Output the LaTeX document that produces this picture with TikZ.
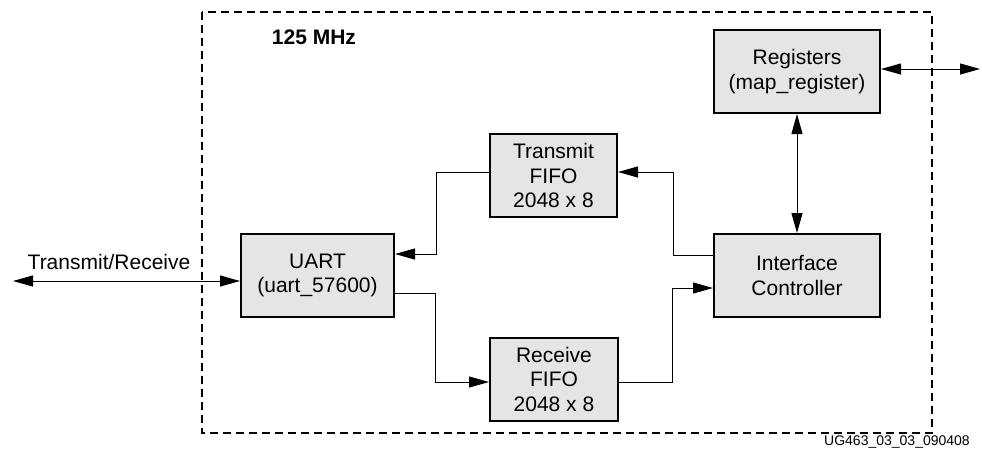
\documentclass[tikz,border=0pt]{standalone}
\usepackage{fontspec}
\setmainfont{Liberation Sans}
\usetikzlibrary{arrows.meta}
\definecolor{grigio}{RGB}{228,229,231}

\begin{document}
\begin{tikzpicture}[x=0.5pt,y=-0.5pt,
        testo/.style={font=\fontsize{10.5}{12.25}\selectfont},
        blocco/.style={testo,draw,line width=1pt,fill=grigio,align=center,inner sep=0pt,
              minimum width=#1,minimum height=41.5pt},
        freccia/.style={-{Triangle[length=10pt,width=5.5pt]},line width=0.5pt},
        doppia/.style={{Triangle[length=10pt,width=5.5pt]}-{Triangle[length=10pt,width=5.5pt]},line width=0.5pt}]
        \useasboundingbox (0,0) rectangle (982,457);

        % riquadro tratteggiato
        \draw[dashed,line width=0.75pt,dash pattern=on 4pt off 2.5pt] (202,12) rectangle (932,433);
        \node[testo,font=\bfseries\fontsize{10.5}{12.25}\selectfont] (clock) at (314,37) {125 MHz};

        % blocchi
        \node[blocco=76.5pt] (uart) at (317.5,275.5) {UART\\(uart\_57600)};
        \node[blocco=63.5pt] (txfifo) at (553.5,175.5) {Transmit\\FIFO\\2048 x 8};
        \node[blocco=64pt] (rxfifo) at (554,379) {Receive\\FIFO\\2048 x 8};
        \node[blocco=83pt] (regs) at (797,71.5) {Registers\\(map\_register)};
        \node[blocco=83pt] (ctrl) at (797,275.5) {Interface\\Controller};

        % collegamenti
        \coordinate (serial) at (13,281);
        \draw[doppia] (serial) -- (serial -| uart.west);
        \node[testo] (seriallabel) at (109,262) {Transmit/Receive};

        \draw[freccia] ([yshift=1.75pt]txfifo.west) -- ++(-53,0) |- ([yshift=10.75pt]uart.east);
        \draw[freccia] ([yshift=-8.75pt]uart.east) -- ++(40,0) |- ([yshift=-1.5pt]rxfifo.west);
        \draw[freccia] ([yshift=10.25pt]ctrl.west) -- ++(-40,0) |- ([yshift=1.75pt]txfifo.east);
        \draw[freccia] ([yshift=-1.5pt]rxfifo.east) -- ++(53,0) |- ([yshift=-6.25pt]ctrl.west);
        \draw[doppia] (regs.south) -- (ctrl.north);

        \coordinate (bus) at (980,69);
        \draw[doppia] (bus -| regs.east) -- (bus);

        \node[font=\fontsize{7}{8}\selectfont] (codice) at (897,442) {UG463\_03\_03\_090408};
    \end{tikzpicture}
\end{document}
